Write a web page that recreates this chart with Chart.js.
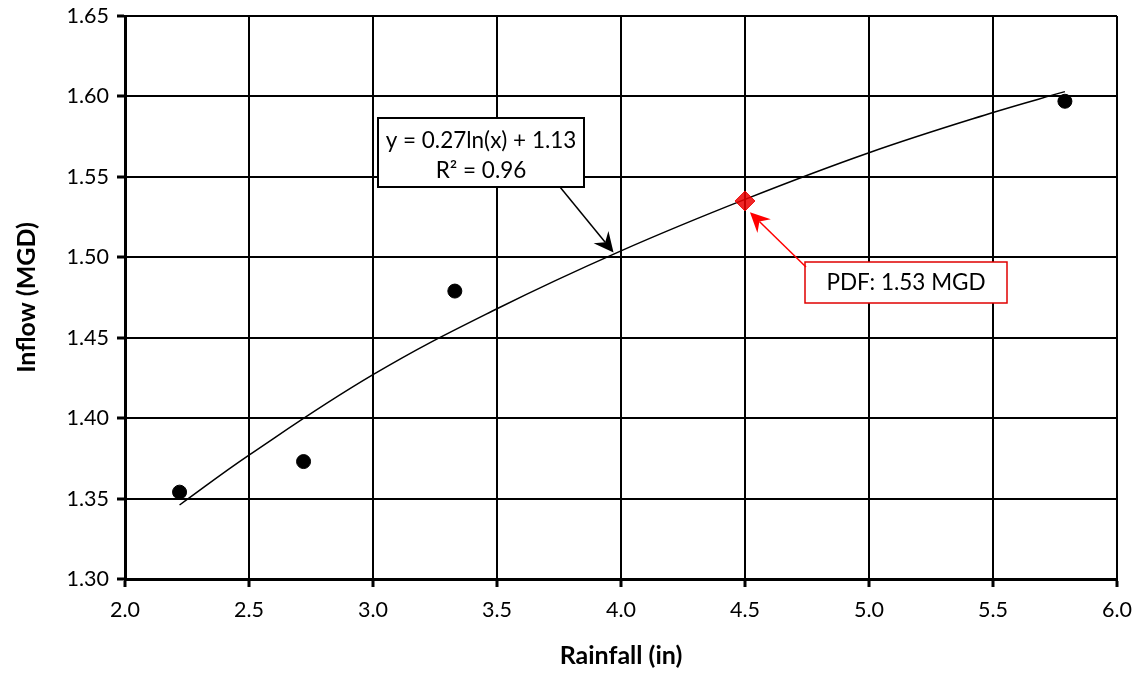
<!DOCTYPE html>
<html>
<head>
<meta charset="utf-8">
<script src="https://cdn.jsdelivr.net/npm/chart.js@4.4.1/dist/chart.umd.min.js"></script>
<style>
  html, body { margin: 0; padding: 0; background: #fff; }
  #wrap { width: 1142px; height: 675px; }
</style>
</head>
<body>
<div id="wrap"><canvas id="inflowChart" width="1142" height="675"></canvas></div>
<script>
// observed points
const rainfall = [2.22, 2.72, 3.33, 5.79];
const inflow = [1.354, 1.373, 1.479, 1.597];

// log trendline
const trendX = [2.22, 2.5, 3.0, 3.5, 4.0, 4.5, 5.0, 5.5, 5.79];
const trendY = [1.346, 1.377, 1.427, 1.468, 1.504, 1.536, 1.565, 1.590, 1.603];

// PDF design point
const pdfX = [4.5];
const pdfY = [1.535];

const xTicks = [2.0, 2.5, 3.0, 3.5, 4.0, 4.5, 5.0, 5.5, 6.0];
const yTicks = [1.30, 1.35, 1.40, 1.45, 1.50, 1.55, 1.60, 1.65];

const FONT = 'Lato, "Open Sans", sans-serif';

function toXY(xs, ys) {
  return xs.map((x, i) => ({ x: x, y: ys[i] }));
}

function arrow(ctx, x1, y1, x2, y2, color, size) {
  const ang = Math.atan2(y2 - y1, x2 - x1);
  ctx.strokeStyle = color;
  ctx.fillStyle = color;
  ctx.lineWidth = 1.5;
  ctx.beginPath();
  ctx.moveTo(x1, y1);
  ctx.lineTo(x2 - Math.cos(ang) * size * 0.6, y2 - Math.sin(ang) * size * 0.6);
  ctx.stroke();
  ctx.beginPath();
  ctx.moveTo(x2, y2);
  ctx.lineTo(x2 - size * Math.cos(ang - 0.45), y2 - size * Math.sin(ang - 0.45));
  ctx.lineTo(x2 - size * 0.6 * Math.cos(ang), y2 - size * 0.6 * Math.sin(ang));
  ctx.lineTo(x2 - size * Math.cos(ang + 0.45), y2 - size * Math.sin(ang + 0.45));
  ctx.closePath();
  ctx.fill();
}

const labelsPlugin = {
  id: 'labels',
  afterDatasetsDraw(chart) {
    const ctx = chart.ctx;
    const xs = chart.scales.x, ys = chart.scales.y;
    ctx.save();

    // equation box
    ctx.fillStyle = '#fff';
    ctx.fillRect(378, 118, 206, 69);
    ctx.strokeStyle = '#000';
    ctx.lineWidth = 2;
    ctx.strokeRect(378, 118, 206, 69);
    ctx.fillStyle = '#000';
    ctx.font = '22.5px ' + FONT;
    ctx.textAlign = 'center';
    ctx.textBaseline = 'middle';
    ctx.fillText('y = 0.27ln(x) + 1.13', 481, 141);
    ctx.fillText('R² = 0.96', 481, 171);
    arrow(ctx, 560, 187, xs.getPixelForValue(3.97), ys.getPixelForValue(1.503), '#000', 22);

    // PDF label
    ctx.fillStyle = '#fff';
    ctx.fillRect(805, 262, 202, 41);
    ctx.strokeStyle = '#e00000';
    ctx.lineWidth = 1.5;
    ctx.strokeRect(805, 262, 202, 41);
    ctx.fillStyle = '#000';
    ctx.fillText('PDF: 1.53 MGD', 906, 283);
    arrow(ctx, 806, 267, xs.getPixelForValue(4.52), ys.getPixelForValue(1.528), '#ff0000', 22);

    ctx.restore();
  }
};

const chart = new Chart(document.getElementById('inflowChart'), {
  type: 'scatter',
  data: {
    datasets: [
      {
        label: 'PDF',
        data: toXY(pdfX, pdfY),
        pointStyle: 'rectRot',
        pointRadius: 10,
        backgroundColor: 'rgba(235,0,0,0.85)',
        borderColor: 'rgba(235,0,0,0.85)',
        order: 0
      },
      {
        label: 'Trend',
        data: toXY(trendX, trendY),
        showLine: true,
        tension: 0.4,
        borderColor: '#000',
        borderWidth: 1.5,
        pointRadius: 0,
        order: 1
      },
      {
        label: 'Observed',
        data: toXY(rainfall, inflow),
        pointRadius: 7,
        backgroundColor: '#000',
        borderColor: '#000',
        order: 2
      }
    ]
  },
  options: {
    responsive: false,
    animation: false,
    layout: { padding: { top: 16, right: 25, left: 0, bottom: 0 } },
    plugins: {
      legend: { display: false },
      tooltip: { enabled: false }
    },
    scales: {
      x: {
        type: 'linear',
        min: 2.0,
        max: 6.0,
        afterFit(s) { s.height = 96; },
        afterBuildTicks(s) { s.ticks = xTicks.map(v => ({ value: v })); },
        grid: { color: '#000', lineWidth: 2, tickLength: 8, tickColor: '#000', tickWidth: 3 },
        border: { display: true, color: '#000', width: 3 },
        ticks: {
          color: '#000',
          font: { family: FONT, size: 21.5 },
          padding: 10,
          callback: v => v.toFixed(1)
        },
        title: {
          display: true,
          text: 'Rainfall (in)',
          color: '#000',
          font: { family: FONT, size: 25, weight: 'bold' },
          padding: { top: 8 }
        }
      },
      y: {
        type: 'linear',
        min: 1.30,
        max: 1.65,
        afterFit(s) { s.width = 125; s.paddingTop = 0; s.paddingBottom = 0; },
        afterBuildTicks(s) { s.ticks = yTicks.map(v => ({ value: v })); },
        grid: { color: '#000', lineWidth: 2, tickLength: 8, tickColor: '#000', tickWidth: 3 },
        border: { display: true, color: '#000', width: 3 },
        ticks: {
          color: '#000',
          font: { family: FONT, size: 21.5 },
          padding: 8,
          callback: v => v.toFixed(2)
        },
        title: {
          display: true,
          text: 'Inflow (MGD)',
          color: '#000',
          font: { family: FONT, size: 25, weight: 'bold' },
          padding: { top: 12, bottom: 0 }
        }
      }
    }
  },
  plugins: [labelsPlugin]
});
</script>
</body>
</html>
